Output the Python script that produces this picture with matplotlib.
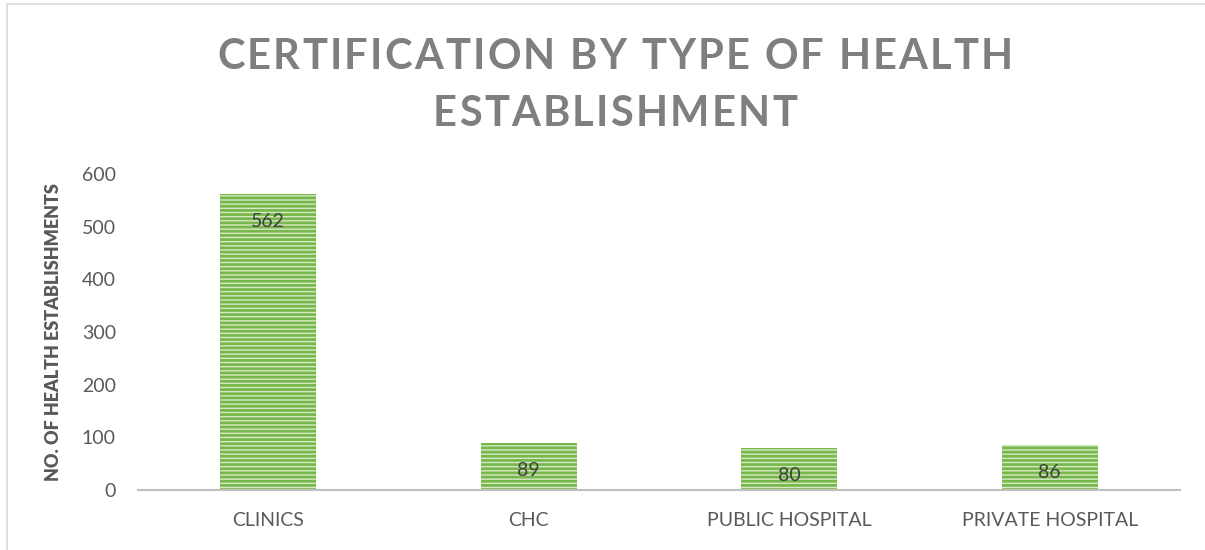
import matplotlib.pyplot as plt
from matplotlib.patches import Rectangle

plt.rcParams['font.family'] = ['Lato', 'DejaVu Sans']
plt.rcParams['hatch.linewidth'] = 2.0
plt.rcParams['hatch.color'] = '#78B84A'

categories = ['CLINICS', 'CHC', 'PUBLIC HOSPITAL', 'PRIVATE HOSPITAL']
values = [562, 89, 80, 86]
title_lines = ['CERTIFICATION BY TYPE OF HEALTH', 'ESTABLISHMENT']

W, H = 1205, 550
fig = plt.figure(figsize=(W / 100, H / 100), dpi=100)
ax = fig.add_axes([138 / W, 60 / H, 1042 / W, 316 / H])

ax.bar(categories, values, width=0.37, color='#D5E9C7',
       edgecolor='#78B84A', hatch='----', linewidth=0)

for i, v in enumerate(values):
    ax.annotate(str(v), (i, v), xytext=(0, -20), textcoords='offset points',
                ha='center', va='center', fontsize=14, color='#404040')

ax.set_ylim(0, 600)
ax.set_xlim(-0.5, 3.5)
ax.set_yticks(range(0, 601, 100))
for s in ['top', 'right', 'left']:
    ax.spines[s].set_visible(False)
ax.spines['bottom'].set_color('#BFBFBF')
ax.spines['bottom'].set_linewidth(1.5)
ax.tick_params(axis='both', length=0, labelsize=14, colors='#595959')
ax.tick_params(axis='x', pad=16)
ax.tick_params(axis='y', pad=16)
ax.set_ylabel('NO. OF HEALTH ESTABLISHMENTS', fontsize=13, fontweight='heavy',
              color='#595959', labelpad=14)


# title with letter spacing, drawn char by char
renderer = fig.canvas.get_renderer()
tkw = dict(fontsize=30, fontweight='bold', color='#7F7F7F', va='center')


def text_width(s):
    t = fig.text(0, 0, s + 'X', **tkw)
    w = t.get_window_extent(renderer).width
    t.remove()
    t = fig.text(0, 0, 'X', **tkw)
    w -= t.get_window_extent(renderer).width
    t.remove()
    return w


nat = text_width(title_lines[0])
spacing = (796 - nat) / (len(title_lines[0]) - 1)
for line, cy in zip(title_lines, [57, 114]):
    total = text_width(line) + spacing * (len(line) - 1)
    x0 = 615 - total / 2
    for i, ch in enumerate(line):
        if ch == ' ':
            continue
        x = x0 + text_width(line[:i]) + spacing * i
        fig.text(x / W, 1 - cy / H, ch, ha='left', **tkw)

# chart border
fig.patches.append(Rectangle((7 / W, -0.01), 1.1, 1 - 4 / H + 0.01,
                             transform=fig.transFigure, fill=False,
                             edgecolor='#D9D9D9', linewidth=1.2))

fig.savefig('out.png', dpi=100)
